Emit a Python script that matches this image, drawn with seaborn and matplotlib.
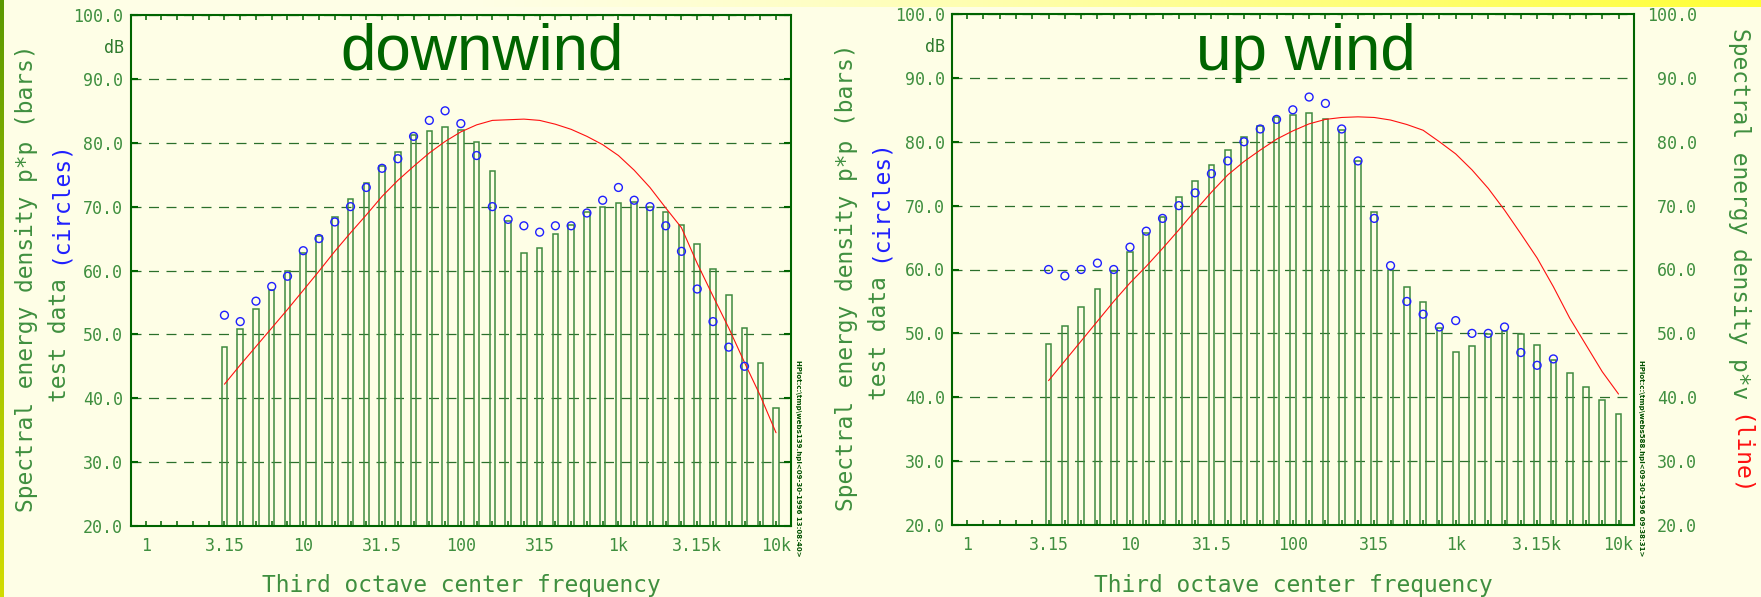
import numpy as np
import matplotlib
matplotlib.use("Agg")
import matplotlib.pyplot as plt
import seaborn as sns
from matplotlib.ticker import FixedLocator, FixedFormatter
from matplotlib.colors import LinearSegmentedColormap

# ---------------- data ----------------
freqs = [3.15, 4, 5, 6.3, 8, 10, 12.5, 16, 20, 25, 31.5, 40, 50, 63, 80, 100,
         125, 160, 200, 250, 315, 400, 500, 630, 800, 1000, 1250, 1600, 2000,
         2500, 3150, 4000, 5000, 6300, 8000, 10000]

bars_down = [48.0, 50.9, 54.0, 56.9, 59.9, 62.8, 65.4, 68.4, 71.2, 73.7, 76.3, 78.5,
             81.2, 81.8, 82.5, 82.0, 80.1, 75.5, 67.7, 62.8, 63.6, 65.7, 67.2, 69.2,
             70.0, 70.6, 70.8, 69.9, 69.1, 67.1, 64.1, 60.3, 56.1, 51.0, 45.5, 38.4]
circles_down = [53.0, 52.0, 55.2, 57.5, 59.1, 63.1, 65.0, 67.6, 70.0, 73.0, 76.0, 77.5,
                81.0, 83.5, 85.0, 83.0, 78.0, 70.0, 68.0, 67.0, 66.0, 67.0, 67.0, 69.0,
                71.0, 73.0, 71.0, 70.0, 67.0, 63.0, 57.1, 52.0, 48.0, 45.0, np.nan, np.nan]
line_down = [42.2, 45.2, 48.1, 51.0, 53.9, 56.9, 59.9, 63.0, 65.9, 68.7, 71.6, 74.1,
             76.3, 78.4, 80.2, 81.7, 82.8, 83.5, 83.6, 83.7, 83.5, 82.9, 82.1, 81.0,
             79.7, 78.0, 75.7, 73.0, 69.8, 66.7, 61.1, 56.0, 51.0, 45.6, 40.4, 34.6]

bars_up = [48.3, 51.2, 54.2, 57.0, 59.8, 62.8, 65.7, 68.2, 71.3, 73.8, 76.4, 78.7,
           80.8, 82.4, 83.8, 84.2, 84.5, 83.6, 81.8, 77.0, 69.0, 59.9, 57.3, 54.9,
           50.8, 47.1, 48.1, 49.9, 50.4, 49.9, 48.2, 45.9, 43.8, 41.6, 39.5, 37.4]
circles_up = [60.0, 59.0, 60.0, 61.0, 60.0, 63.5, 66.0, 68.0, 70.0, 72.0, 75.0, 77.0,
              80.0, 82.0, 83.5, 85.0, 87.0, 86.0, 82.0, 77.0, 68.0, 60.6, 55.0, 53.0,
              51.0, 52.0, 50.0, 50.0, 51.0, 47.0, 45.0, 46.0, np.nan, np.nan, np.nan, np.nan]
line_up = [42.6, 45.7, 48.8, 51.9, 55.0, 57.9, 60.5, 63.3, 66.2, 69.2, 72.1, 74.8,
           76.9, 78.7, 80.4, 81.7, 82.8, 83.5, 83.8, 83.9, 83.8, 83.4, 82.7, 81.8,
           80.0, 78.1, 75.6, 72.7, 69.3, 65.6, 61.8, 57.3, 52.4, 48.2, 44.0, 40.5]

xtick_freqs = [1, 3.15, 10, 31.5, 100, 315, 1000, 3150, 10000]
xtick_labels = ["1", "3.15", "10", "31.5", "100", "315", "1k", "3.15k", "10k"]
minor_freqs = [1, 1.25, 1.6, 2, 2.5] + freqs
ytick_values = [20, 30, 40, 50, 60, 70, 80, 90, 100]
ytick_labels = ["%.1f" % v for v in ytick_values]
titles = ["downwind", "up wind"]
xlabel = "Third octave center frequency"
ylab1 = "Spectral energy density p*p (bars)"
ylab2a, ylab2b = "test data ", "(circles)"
ylab3a, ylab3b = "Spectral energy density p*v ", "(line)"
stamps = ["HPlot:c:\\tmp\\webs139.hpl<09-30-1996 13:08:40>",
          "HPlot:c:\\tmp\\webs588.hpl<09-30-1996 09:38:31>"]

# ---------------- style ----------------
W, H = 1761, 597
sns.set_theme(style="ticks")
plt.rcParams["font.family"] = ["DejaVu Sans Mono", "DejaVu Sans"]

BG = "#fefee6"
SPINE = "#006400"
GREEN = "#3f8f3f"
BAR = "#3f8a3f"
GRID = "#2b6f2b"
BLUE = "#1f1fff"
RED = "#ff1010"
TITLE = "#006400"


def band(f):
    return np.round(10 * np.log10(np.asarray(f, dtype=float)))


bx = band(freqs)

fig = plt.figure(figsize=(W / 100, H / 100), dpi=100, facecolor=BG)


def fx(x):
    return x / W


def fy(y):
    return 1 - y / H


# decorative strips of the slide
deco = fig.add_axes([0, 0, 1, 1], zorder=-5)
deco.axis("off")
cm_left = LinearSegmentedColormap.from_list("l", ["#5a9800", "#9cc000", "#d2dc00"])
deco.imshow(np.linspace(0, 1, 256)[:, None], extent=[0, 3.5, H, 0], cmap=cm_left,
            aspect="auto")
top = np.zeros((1, 512, 4))
top[..., 0] = 1.0
top[..., 1] = 1.0
top[..., 2] = 0.2
top[..., 3] = np.linspace(0, 1, 512) ** 1.3
deco.imshow(top, extent=[450, W, 7, 0], aspect="auto")
deco.set_xlim(0, W)
deco.set_ylim(H, 0)

# axes rectangles in pixels: left, top, right, bottom
rects = [(131, 15, 791, 526), (952, 14, 1634, 525)]
datasets = [(bars_down, circles_down, line_down), (bars_up, circles_up, line_up)]
title_x = [482, 1306]
label_pad = [5.8, 5.0]

axes = []
for i, ((l, t, r, b), (bars, circ, line)) in enumerate(zip(rects, datasets)):
    ax = fig.add_axes([l / W, 1 - b / H, (r - l) / W, (b - t) / H])
    ax.set_facecolor("none")
    sns.barplot(x=bx, y=bars, native_scale=True, width=0.35, fill=False,
                color=BAR, linewidth=1.1, errorbar=None, ax=ax)
    sns.lineplot(x=bx, y=line, color=RED, linewidth=0.8, estimator=None, ax=ax)
    sns.scatterplot(x=bx, y=circ, marker="o", s=32, facecolors="none",
                    edgecolors=BLUE, linewidth=1.0, legend=False, zorder=4, ax=ax)

    ax.set_xlim(-0.93, 40.95)
    ax.set_ylim(20, 100)
    ax.xaxis.set_major_locator(FixedLocator(band(xtick_freqs)))
    ax.xaxis.set_major_formatter(FixedFormatter(xtick_labels))
    ax.xaxis.set_minor_locator(FixedLocator(band(minor_freqs)))
    ax.yaxis.set_major_locator(FixedLocator(ytick_values))
    ax.yaxis.set_major_formatter(FixedFormatter(ytick_labels))
    ax.yaxis.set_minor_locator(FixedLocator([]))

    ax.grid(axis="y", color=GRID, linestyle=(0, (8, 6)), linewidth=0.9)
    ax.grid(axis="x", visible=False)
    for s in ax.spines.values():
        s.set_visible(True)
        s.set_color(SPINE)
        s.set_linewidth(1.5)
    ax.tick_params(axis="x", which="both", direction="in", top=True, bottom=True,
                   length=3.6, width=1.1, color=SPINE, labelsize=12,
                   labelcolor=GREEN, pad=8)
    ax.tick_params(axis="y", which="major", direction="in", left=True, right=True,
                   length=5, width=1.5, color=SPINE, labelsize=12,
                   labelcolor=GREEN, pad=label_pad[i])

    ax.set_xlabel(xlabel, fontsize=16.5, color=GREEN)
    ax.xaxis.set_label_coords(0.5, (b - 592) / (b - t))
    ax.xaxis.label.set_va("baseline")
    ax.set_ylabel("")

    ax.text((title_x[i] - l) / (r - l), (b - 70) / (b - t), titles[i],
            transform=ax.transAxes, ha="center", va="baseline", fontsize=46,
            family=["Liberation Sans", "DejaVu Sans"], color=TITLE)
    axes.append(ax)

# right-hand tick labels of the up-wind panel
ax2 = axes[1].twinx()
ax2.set_ylim(20, 100)
ax2.yaxis.set_major_locator(FixedLocator(ytick_values))
ax2.yaxis.set_major_formatter(FixedFormatter(ytick_labels))
ax2.tick_params(axis="y", length=0, pad=45.4, labelsize=12, labelcolor=GREEN)
for s in ax2.spines.values():
    s.set_visible(False)
for lab in ax2.get_yticklabels():
    lab.set_horizontalalignment("right")

# ---------------- free texts ----------------
FS = 16.5
adv = 0.60205 * FS * 100 / 72


def vtext(x, y, s, color, rot):
    fig.text(fx(x), fy(y), s, rotation=rot, rotation_mode="anchor", ha="left",
             va="baseline", fontsize=FS, color=color)


vtext(33, 512, ylab1, GREEN, 90)
vtext(66, 402, ylab2a, GREEN, 90)
vtext(66, 402 - len(ylab2a) * adv, ylab2b, BLUE, 90)

vtext(853, 511, ylab1, GREEN, 90)
vtext(886, 400, ylab2a, GREEN, 90)
vtext(886, 400 - len(ylab2a) * adv, ylab2b, BLUE, 90)

vtext(1733, 28, ylab3a, GREEN, 270)
vtext(1733, 28 + len(ylab3a) * adv, ylab3b, RED, 270)

for (xc, yc) in [(114, 48), (935, 47)]:
    fig.text(fx(xc), fy(yc), "dB", ha="center", va="center", fontsize=12,
             color="#2d7a2d")

for xs, s in zip([798, 1641], stamps):
    fig.text(fx(xs), fy(360), s, rotation=270, rotation_mode="anchor", ha="left",
             va="center", fontsize=5.0, color="#005000", weight="bold",
             family=["DejaVu Sans Condensed", "DejaVu Sans"])

fig.savefig("out.png", dpi=100, facecolor=fig.get_facecolor())
